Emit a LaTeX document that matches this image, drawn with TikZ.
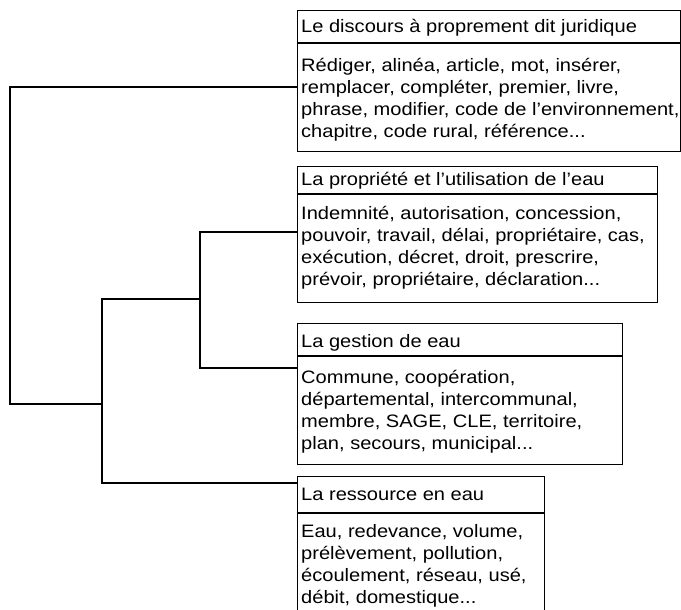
\documentclass[tikz,border=0pt]{standalone}
\usepackage{fontspec}
\setmainfont{Liberation Sans}[FakeStretch=1.115]
\newcommand\fl{\rule{0pt}{15pt}}
\begin{document}
\begin{tikzpicture}[x=1pt,y=-1pt,
  box/.style={draw=black, line width=1.2pt, rectangle, inner sep=0pt, anchor=north west},
  sep/.style={draw=black, line width=1.2pt},
  link/.style={draw=black, line width=1.2pt},
  ttl/.style={inner sep=0pt, anchor=base west, font=\fontsize{18}{22}\selectfont},
  txt/.style={inner sep=0pt, anchor=north west, align=left, font=\fontsize{18}{22}\selectfont}]
\useasboundingbox (0,0) rectangle (681,610);
% boxes
\node[box, minimum width=383pt, minimum height=141pt] (b1) at (297,10) {};
\node[box, minimum width=360pt, minimum height=136pt] (b2) at (297,166) {};
\node[box, minimum width=325pt, minimum height=141pt] (b3) at (297,323) {};
\node[box, minimum width=247pt, minimum height=150pt] (b4) at (297,476) {};
% header separators
\draw[sep] (b1.west |- 0,43) -- (b1.east |- 0,43);
\draw[sep] (b2.west |- 0,194) -- (b2.east |- 0,194);
\draw[sep] (b3.west |- 0,356) -- (b3.east |- 0,356);
\draw[sep] (b4.west |- 0,513) -- (b4.east |- 0,513);
% titles
\node[ttl] (t1) at (301,33) {Le discours à proprement dit juridique};
\node[ttl] (t2) at (301,185) {La propriété et l’utilisation de l’eau};
\node[ttl] (t3) at (301,347) {La gestion de eau};
\node[ttl] (t4) at (301,500) {La ressource en eau};
% bodies
\node[txt] (d1) at (301,56) {\fl Rédiger, alinéa, article, mot, insérer,\\ remplacer, compléter, premier, livre,\\ phrase, modifier, code de l’environnement,\\ chapitre, code rural, référence...};
\node[txt] (d2) at (301,204) {\fl Indemnité, autorisation, concession,\\ pouvoir, travail, délai, propriétaire, cas,\\ exécution, décret, droit, prescrire,\\ prévoir, propriétaire, déclaration...};
\node[txt] (d3) at (301,368) {\fl Commune, coopération,\\ départemental, intercommunal,\\ membre, SAGE, CLE, territoire,\\ plan, secours, municipal...};
\node[txt] (d4) at (301,522) {\fl Eau, redevance, volume,\\ prélèvement, pollution,\\ écoulement, réseau, usé,\\ débit, domestique...};
% dendrogram joints
\coordinate (r1) at (10,87);
\coordinate (r2) at (10,404);
\coordinate (m1) at (102,299);
\coordinate (m2) at (102,483);
\coordinate (k1) at (200,232);
\coordinate (k2) at (200,368);
\draw[link] (b1.west |- r1) -- (r1) -- (r2) -- (r2 -| m1);
\draw[link] (b4.west |- m2) -- (m2) -- (m1) -- (m1 -| k1);
\draw[link] (b2.west |- k1) -- (k1) -- (k2) -- (b3.west |- k2);
\end{tikzpicture}
\end{document}
